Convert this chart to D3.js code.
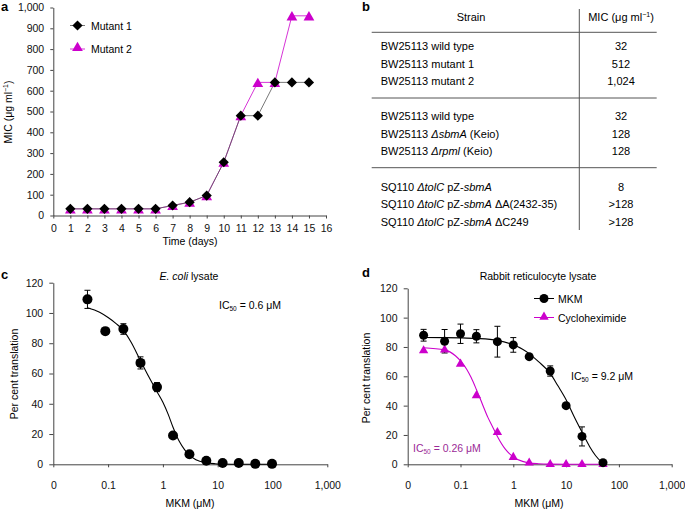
<!DOCTYPE html>
<html>
<head>
<meta charset="utf-8">
<script src="https://cdn.jsdelivr.net/npm/d3@7"></script>
<style>
  body { margin: 0; background: #fff; }
  svg { font-family: "Liberation Sans", Arial, Helvetica, sans-serif; }
  .axis path, .axis line { stroke: #444; }
  .axis text { font-size: 10.5px; fill: #111; }
</style>
</head>
<body>
<svg id="chart" width="685" height="509"></svg>
<script>
// panel a: MIC over time
const days = [1,2,3,4,5,6,7,8,9,10,11,12,13,14,15];
const mutant1 = [32,32,32,32,32,32,48,64,96,256,480,480,640,640,640];
const mutant2 = [32,32,32,32,32,32,48,64,96,256,480,640,640,960,960];
const dayTicks = d3.range(0, 17);
const micTicks = [0,100,200,300,400,500,600,700,800,900,1000];

// panel b: table rows (<i> = italic)
const tableGroups = [
  [["BW25113 wild type", "32"], ["BW25113 mutant 1", "512"], ["BW25113 mutant 2", "1,024"]],
  [["BW25113 wild type", "32"], ["BW25113 <i>ΔsbmA</i> (Keio)", "128"], ["BW25113 <i>Δrpml</i> (Keio)", "128"]],
  [["SQ110 <i>ΔtolC</i> pZ-<i>sbmA</i>", "8"], ["SQ110 <i>ΔtolC</i> pZ-<i>sbmA</i> ΔA(2432-35)", ">128"], ["SQ110 <i>ΔtolC</i> pZ-<i>sbmA</i> ΔC249", ">128"]]
];

// panel c: E. coli lysate
const ecoliConc = [0.042,0.089,0.19,0.39,0.78,1.53,3.05,6.2,12.3,24.2,48.5,98];
const ecoliPct = [109,88,89.4,67,51,19,6.6,2.4,0.9,0.9,0.3,0.3];
const ecoliErr = [6,0,3.5,4,3,0,0,0,0,0,0,0];
const ecoliFitX = [0.042,0.07,0.1,0.14,0.19,0.26,0.39,0.55,0.78,1.0,1.25,1.53,2.0,2.5,3.05,4,6.2,9,12.3,24,50,98];
const ecoliFitY = [103.5,100.5,97,93,88.5,81,68.5,58,48,41,33,24.5,15,9.5,6,3,1,0.4,0.2,0,0,0];

// panel d: rabbit reticulocyte lysate
const rabbitConc = [0.02,0.05,0.1,0.2,0.5,1,2,5,10,20,50];
const mkmPct = [88,83.9,89,87.3,83.6,81.4,73.4,63.6,40,19,1.1];
const mkmErr = [4,8,6.6,4.5,10.5,5,1,3.5,1.5,6.5,0];
const cycloPct = [77.5,78,68.4,46.8,21.8,4.8,1,0,0,0,0];
const mkmFitX = [0.02,0.05,0.1,0.2,0.5,1,1.5,2,3,5,7,10,14,20,28,36,50];
const mkmFitY = [86.5,86.4,86.2,85.8,84.5,81.5,78.5,75.5,70,62,53.5,44,33,22,12,6,0.5];
const cycloFitX = [0.02,0.05,0.08,0.1,0.13,0.16,0.2,0.26,0.33,0.4,0.5,0.7,1,1.5,2,3,5,10,20,50];
const cycloFitY = [79.5,78,74,70.5,65,59,51,41,32,26,19,10.5,5,2,1,0.4,0.1,0,0,0];

const logTicks = [0.01,0.1,1,10,100,1000];
const logLabels = ["0","0.1","1","10","100","1,000"];
const pctTicks = [0,20,40,60,80,100,120];

const MAG = "#cc00cc";
const svg = d3.select("#chart");

function panelLetter(x, y, t) {
  svg.append("text").attr("x", x).attr("y", y).attr("font-size", 13)
    .attr("font-weight", "bold").text(t);
}
// turn <i>..</i> into svg tspans
function rich(s) {
  return s.replace(/&/g,"&amp;").replace(/>(?=\d)/g,"&gt;")
    .replace(/<i>/g,'<tspan font-style="italic">').replace(/<\/i>/g,'</tspan>');
}

// ---------- panel a ----------
const ax = d3.scaleLinear().domain([0,16]).range([53.3,326]);
const ay = d3.scaleLinear().domain([0,1000]).range([215.5,7.5]);
const gA = svg.append("g");
gA.append("g").attr("class","axis").attr("transform","translate(0,215.5)")
  .call(d3.axisBottom(ax).tickValues(dayTicks).tickSize(3).tickSizeOuter(0).tickFormat(d3.format("d")))
  .call(g => g.selectAll("text").attr("dy","1em"));
gA.append("g").attr("class","axis").attr("transform","translate(53.3,0)")
  .call(d3.axisLeft(ay).tickValues(micTicks).tickSize(3).tickSizeOuter(0).tickFormat(d3.format(",")))
  .call(g => g.selectAll("text").attr("dx","-0.3em"));
panelLetter(1, 11, "a");
gA.append("text").attr("x",190).attr("y",245).attr("text-anchor","middle").attr("font-size",10.5).text("Time (days)");
gA.append("text").attr("transform","translate(12,112) rotate(-90)").attr("text-anchor","middle")
  .attr("font-size",10.5).html('MIC (μg ml<tspan dy="-4" font-size="7">−1</tspan><tspan dy="4">)</tspan>');

const lineA = d3.line().x((d,i) => ax(days[i])).y(d => ay(d));
gA.append("path").datum(mutant2).attr("d", lineA).attr("fill","none").attr("stroke",MAG).attr("stroke-width",0.8);
gA.append("path").datum(mutant1).attr("d", lineA).attr("fill","none").attr("stroke","#555").attr("stroke-width",0.8);
const triA = d3.symbol().type(d3.symbolTriangle).size(50);
const diaA = d3.symbol().type(d3.symbolSquare).size(52);
gA.selectAll(".m2").data(mutant2).join("path")
  .attr("transform",(d,i) => `translate(${ax(days[i])},${ay(d)+1.5})`).attr("d", triA).attr("fill",MAG);
gA.selectAll(".m1").data(mutant1).join("path")
  .attr("transform",(d,i) => `translate(${ax(days[i])},${ay(d)}) rotate(45)`).attr("d", diaA).attr("fill","#000");
// legend a
gA.append("line").attr("x1",70).attr("x2",85).attr("y1",25.5).attr("y2",25.5).attr("stroke","#555").attr("stroke-width",0.8);
gA.append("path").attr("transform","translate(77.5,25.5) rotate(45)").attr("d",diaA).attr("fill","#000");
gA.append("text").attr("x",91).attr("y",29.5).attr("font-size",10.5).text("Mutant 1");
gA.append("line").attr("x1",70).attr("x2",85).attr("y1",49).attr("y2",49).attr("stroke",MAG).attr("stroke-width",0.8);
gA.append("path").attr("transform","translate(77.5,48)").attr("d",triA).attr("fill",MAG);
gA.append("text").attr("x",91).attr("y",52.5).attr("font-size",10.5).text("Mutant 2");

// ---------- panel b ----------
const gB = svg.append("g");
panelLetter(362, 11, "b");
gB.append("line").attr("x1",579.3).attr("x2",579.3).attr("y1",9).attr("y2",230).attr("stroke","#555").attr("stroke-width",1);
[32.3, 98, 167.7].forEach(y => gB.append("line").attr("x1",371.7).attr("x2",656.7).attr("y1",y).attr("y2",y)
  .attr("stroke","#555").attr("stroke-width",1));
gB.append("text").attr("x",471).attr("y",21).attr("text-anchor","middle").attr("font-size",11).text("Strain");
gB.append("text").attr("x",621).attr("y",21).attr("text-anchor","middle").attr("font-size",11)
  .html('MIC (μg ml<tspan dy="-4" font-size="7">−1</tspan><tspan dy="4">)</tspan>');
const groupTop = [46, 116, 186.7];
tableGroups.forEach((grp, gi) => {
  grp.forEach((row, ri) => {
    const y = groupTop[gi] + ri*17.6 + 4;
    gB.append("text").attr("x",380.7).attr("y",y).attr("font-size",11).html(rich(row[0]));
    gB.append("text").attr("x",621).attr("y",y).attr("text-anchor","middle").attr("font-size",11).text(row[1]);
  });
});

// ---------- helpers for c/d ----------
function logAxes(g, x, y, y0, x0) {
  g.append("g").attr("class","axis").attr("transform",`translate(0,${y0})`)
    .call(d3.axisBottom(x).tickValues(logTicks).tickSize(3).tickSizeOuter(0).tickFormat((d,i) => logLabels[i]))
    .call(s => s.selectAll("text").attr("dy","1.75em"));
  g.append("g").attr("class","axis").attr("transform",`translate(${x0},0)`)
    .call(d3.axisLeft(y).tickValues(pctTicks).tickSize(4).tickSizeOuter(0))
    .call(s => s.selectAll("text").attr("dx","-0.3em"));
}
function errBars(g, xs, ys, es, x, y, color) {
  xs.forEach((c, i) => {
    if (!es[i]) return;
    const px = x(c);
    g.append("line").attr("x1",px).attr("x2",px).attr("y1",y(ys[i]-es[i])).attr("y2",y(ys[i]+es[i])).attr("stroke",color).attr("stroke-width",1);
    [ys[i]-es[i], ys[i]+es[i]].forEach(v => g.append("line").attr("x1",px-3).attr("x2",px+3)
      .attr("y1",y(v)).attr("y2",y(v)).attr("stroke",color).attr("stroke-width",1));
  });
}

// ---------- panel c ----------
const cx = d3.scaleLog().domain([0.01,1000]).range([53.3,327.3]);
const cy = d3.scaleLinear().domain([0,120]).range([464.3,282.7]);
const gC = svg.append("g");
logAxes(gC, cx, cy, 464.3, 53.3);
panelLetter(1, 279, "c");
gC.append("text").attr("x",189).attr("y",279.5).attr("text-anchor","middle").attr("font-size",10.5)
  .html('<tspan font-style="italic">E. coli</tspan> lysate');
gC.append("text").attr("x",190).attr("y",507).attr("text-anchor","middle").attr("font-size",10.5).text("MKM (μM)");
gC.append("text").attr("transform","translate(18,374) rotate(-90)").attr("text-anchor","middle").attr("font-size",10.5).text("Per cent translation");
gC.append("text").attr("x",219).attr("y",308.5).attr("font-size",10.5)
  .html('IC<tspan dy="2.5" font-size="6.5">50</tspan><tspan dy="-2.5"> = 0.6 μM</tspan>');
const fitLine = (x, y) => d3.line().x(d => x(d[0])).y(d => y(d[1])).curve(d3.curveMonotoneX);
gC.append("path").datum(ecoliFitX.map((v,i) => [v, ecoliFitY[i]])).attr("d", fitLine(cx, cy))
  .attr("fill","none").attr("stroke","#000").attr("stroke-width",1.1);
errBars(gC, ecoliConc, ecoliPct, ecoliErr, cx, cy, "#000");
gC.selectAll(".pt").data(ecoliConc).join("circle")
  .attr("cx", d => cx(d)).attr("cy",(d,i) => cy(ecoliPct[i])).attr("r",5).attr("fill","#000");

// ---------- panel d ----------
const dx = d3.scaleLog().domain([0.01,1000]).range([407.7,671.7]);
const dy = d3.scaleLinear().domain([0,120]).range([464.3,288.3]);
const gD = svg.append("g");
logAxes(gD, dx, dy, 464.3, 407.7);
panelLetter(362, 277, "d");
gD.append("text").attr("x",538).attr("y",279.5).attr("text-anchor","middle").attr("font-size",10.5).text("Rabbit reticulocyte lysate");
gD.append("text").attr("x",539).attr("y",507).attr("text-anchor","middle").attr("font-size",10.5).text("MKM (μM)");
gD.append("text").attr("transform","translate(370,378) rotate(-90)").attr("text-anchor","middle").attr("font-size",10.5).text("Per cent translation");
gD.append("text").attr("x",571).attr("y",379.5).attr("font-size",10.5)
  .html('IC<tspan dy="2.5" font-size="6.5">50</tspan><tspan dy="-2.5"> = 9.2 μM</tspan>');
gD.append("text").attr("x",413).attr("y",451.5).attr("font-size",10.5).attr("fill","#9b2a96")
  .html('IC<tspan dy="2.5" font-size="6.5">50</tspan><tspan dy="-2.5"> = 0.26 μM</tspan>');
gD.append("path").datum(cycloFitX.map((v,i) => [v, cycloFitY[i]])).attr("d", fitLine(dx, dy))
  .attr("fill","none").attr("stroke",MAG).attr("stroke-width",1.1);
gD.append("path").datum(mkmFitX.map((v,i) => [v, mkmFitY[i]])).attr("d", fitLine(dx, dy))
  .attr("fill","none").attr("stroke","#000").attr("stroke-width",1.1);
errBars(gD, rabbitConc, mkmPct, mkmErr, dx, dy, "#000");
const triD = d3.symbol().type(d3.symbolTriangle).size(38);
gD.selectAll(".cy").data(cycloPct).join("path")
  .attr("transform",(d,i) => `translate(${dx(rabbitConc[i])},${dy(d)})`).attr("d",triD).attr("fill",MAG);
gD.selectAll(".mk").data(mkmPct).join("circle")
  .attr("cx",(d,i) => dx(rabbitConc[i])).attr("cy", d => dy(d)).attr("r",4.5).attr("fill","#000");
// legend d
gD.append("line").attr("x1",534).attr("x2",554).attr("y1",298.5).attr("y2",298.5).attr("stroke","#000").attr("stroke-width",1);
gD.append("circle").attr("cx",544).attr("cy",298.5).attr("r",4.5).attr("fill","#000");
gD.append("text").attr("x",558).attr("y",302.5).attr("font-size",10.5).text("MKM");
gD.append("line").attr("x1",534).attr("x2",554).attr("y1",317.5).attr("y2",317.5).attr("stroke",MAG).attr("stroke-width",1);
gD.append("path").attr("transform","translate(544,317)").attr("d",triD).attr("fill",MAG);
gD.append("text").attr("x",558).attr("y",321.5).attr("font-size",10.5).text("Cycloheximide");
</script>
</body>
</html>
